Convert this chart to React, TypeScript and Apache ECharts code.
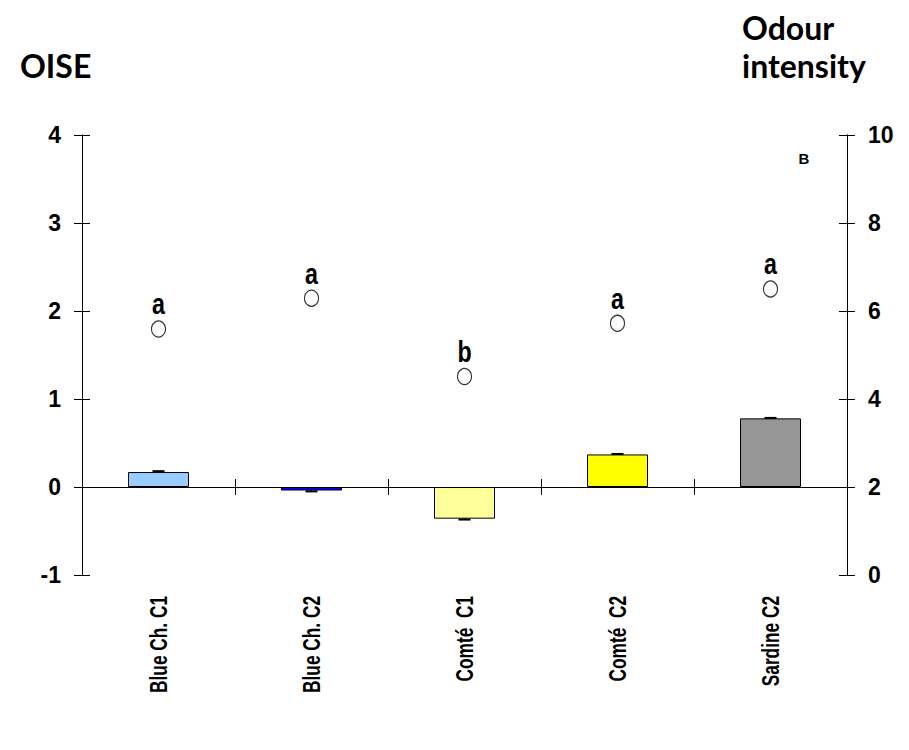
import React, { useEffect, useRef } from "react";
import * as echarts from "echarts";

const categories = ["Blue Ch. C1", "Blue Ch. C2", "Comté  C1", "Comté  C2", "Sardine C2"];
const oiseValues = [0.17, -0.04, -0.36, 0.37, 0.78];
const oiseErrors = [0.01, 0.01, 0.01, 0.005, 0.005];
const barColors = ["#99ccff", "#0000ff", "#ffff99", "#ffff00", "#969696"];
const odourValues = [5.59, 6.29, 4.51, 5.72, 6.5];
const letters = ["a", "a", "b", "a", "a"];
const leftTicks = { min: -1, max: 4, interval: 1 };
const rightTicks = { min: 0, max: 10, interval: 2 };

const ARIAL = "'Liberation Sans', Arial, sans-serif";
const TITLE_FONT = "bold 32px Lato, 'Open Sans', sans-serif";

export default function App() {
  const ref = useRef<HTMLDivElement>(null);
  useEffect(() => {
    if (!ref.current) return;
    const chart = echarts.init(ref.current, null, { renderer: "svg" });
    const lineStyle = { color: "#000", width: 1 };
    const hiddenLabel = { show: false };
    const yBase = (side: "left" | "right", t: any, tickInside: boolean, showLabel: boolean) => ({
      type: "value",
      position: side,
      min: t.min,
      max: t.max,
      interval: t.interval,
      splitLine: { show: false },
      axisLine: { show: true, lineStyle },
      axisTick: { show: true, inside: tickInside, length: 8, lineStyle },
      axisLabel: showLabel
        ? { show: true, color: "#000", fontFamily: ARIAL, fontWeight: "bold", fontSize: 23, margin: 21 }
        : hiddenLabel,
    });
    const xZero = (inside: boolean) => ({
      type: "category",
      data: categories,
      position: "bottom",
      boundaryGap: true,
      axisLine: { show: true, onZero: true, onZeroAxisIndex: 0, lineStyle },
      axisTick: { show: true, inside, length: 8, alignWithLabel: false, lineStyle },
      axisLabel: hiddenLabel,
      splitLine: { show: false },
    });
    chart.setOption({
      animation: false,
      grid: { left: 82, right: 62, top: 135, bottom: 175, containLabel: false },
      xAxis: [xZero(false), xZero(true)],
      yAxis: [
        yBase("left", leftTicks, false, true),
        yBase("right", rightTicks, false, true),
        yBase("left", leftTicks, true, false),
        yBase("right", rightTicks, true, false),
      ],
      graphic: [
        {
          type: "text",
          style: { text: "OISE", x: 20, y: 65, font: TITLE_FONT, fill: "#000", verticalAlign: "middle" },
        },
        {
          type: "text",
          style: { text: "Odour", x: 742, y: 27, font: TITLE_FONT, fill: "#000", verticalAlign: "middle" },
        },
        {
          type: "text",
          style: { text: "intensity", x: 742, y: 65, font: TITLE_FONT, fill: "#000", verticalAlign: "middle" },
        },
        {
          type: "text",
          style: { text: "B", x: 804, y: 158, font: "bold 15px 'Liberation Sans', Arial, sans-serif", fill: "#000", align: "center", verticalAlign: "middle" },
        },
      ],
      series: [
        {
          type: "bar",
          xAxisIndex: 0,
          yAxisIndex: 0,
          barWidth: 61,
          data: oiseValues.map((v, i) => ({
            value: v,
            itemStyle: { color: barColors[i], borderColor: "#000", borderWidth: 1 },
          })),
        },
        {
          type: "custom",
          xAxisIndex: 0,
          yAxisIndex: 0,
          data: oiseValues.map((v, i) => [i, v, oiseErrors[i]]),
          renderItem: (params: any, api: any) => {
            const x = api.value(0);
            const v = api.value(1);
            const e = api.value(2);
            const dir = v >= 0 ? 1 : -1;
            const pBase = api.coord([x, v]);
            const pEnd = api.coord([x, v + dir * e]);
            const hw = 6;
            return {
              type: "group",
              children: [
                { type: "line", shape: { x1: pBase[0], y1: pBase[1], x2: pEnd[0], y2: pEnd[1] }, style: { stroke: "#000", lineWidth: 1.5 } },
                { type: "line", shape: { x1: pEnd[0] - hw, y1: pEnd[1], x2: pEnd[0] + hw, y2: pEnd[1] }, style: { stroke: "#000", lineWidth: 2 } },
              ],
            };
          },
          z: 3,
        },
        {
          // category labels drawn below the plot, rotated and condensed
          type: "custom",
          xAxisIndex: 0,
          yAxisIndex: 0,
          clip: false,
          data: categories.map((c, i) => [i, leftTicks.min]),
          renderItem: (params: any, api: any) => {
            const p = api.coord([api.value(0), api.value(1)]);
            return {
              type: "text",
              x: p[0],
              y: p[1] + 21,
              rotation: Math.PI / 2,
              scaleX: 0.72,
              scaleY: 1,
              style: {
                text: categories[params.dataIndex],
                font: "bold 24px 'Liberation Sans', Arial, sans-serif",
                fill: "#000",
                align: "right",
                verticalAlign: "middle",
              },
            };
          },
        },
        {
          type: "scatter",
          xAxisIndex: 0,
          yAxisIndex: 1,
          symbol: "circle",
          symbolSize: [14, 16],
          itemStyle: { color: "#fff", borderColor: "#000", borderWidth: 1.2 },
          data: odourValues,
          z: 4,
        },
        {
          // significance letters above the circles
          type: "custom",
          xAxisIndex: 0,
          yAxisIndex: 1,
          data: odourValues.map((v, i) => [i, v]),
          renderItem: (params: any, api: any) => {
            const p = api.coord([api.value(0), api.value(1)]);
            return {
              type: "text",
              x: p[0],
              y: p[1] - 10,
              scaleX: 0.8,
              scaleY: 1,
              style: {
                text: letters[params.dataIndex],
                font: "bold 29px 'Liberation Sans', Arial, sans-serif",
                fill: "#000",
                align: "center",
                verticalAlign: "bottom",
              },
            };
          },
          z: 5,
        },
      ],
    });
    return () => chart.dispose();
  }, []);
  return <div ref={ref} style={{ width: 909, height: 750, position: "absolute", left: 0, top: 0 }} />;
}
